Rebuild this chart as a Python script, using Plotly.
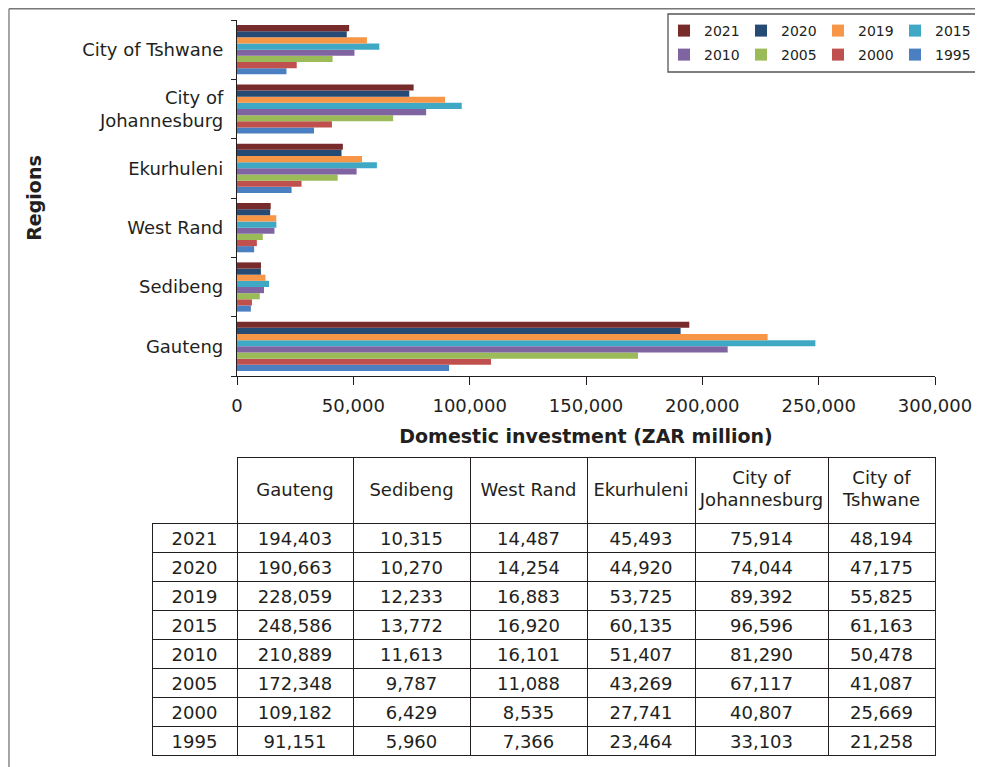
import plotly.graph_objects as go

# page body has an 8px margin, so the figure starts at (8, 8) in the screenshot
OFF = 8
W, H = 975, 759

regions = ['Gauteng', 'Sedibeng', 'West Rand', 'Ekurhuleni', 'City of Johannesburg', 'City of Tshwane']
region_labels = ['Gauteng', 'Sedibeng', 'West Rand', 'Ekurhuleni', 'City of<br>Johannesburg', 'City of Tshwane']
years = ['2021', '2020', '2019', '2015', '2010', '2005', '2000', '1995']

v2021 = [194403, 10315, 14487, 45493, 75914, 48194]
v2020 = [190663, 10270, 14254, 44920, 74044, 47175]
v2019 = [228059, 12233, 16883, 53725, 89392, 55825]
v2015 = [248586, 13772, 16920, 60135, 96596, 61163]
v2010 = [210889, 11613, 16101, 51407, 81290, 50478]
v2005 = [172348, 9787, 11088, 43269, 67117, 41087]
v2000 = [109182, 6429, 8535, 27741, 40807, 25669]
v1995 = [91151, 5960, 7366, 23464, 33103, 21258]

series = [v2021, v2020, v2019, v2015, v2010, v2005, v2000, v1995]
colors = ['#772b2b', '#254a74', '#f79646', '#3fa9c5', '#8064a2', '#9bbb59', '#c0504d', '#4a80c1']

FONT = 'DejaVu Sans, sans-serif'
TXT = '#231f20'
CLEAR = 'rgba(0,0,0,0)'


def px_x(x):
    return (x - OFF) / W


def px_y(y):
    return 1 - (y - OFF) / H


fig = go.Figure()

# 1995 first so 2021 ends up at the top of each group
for i in reversed(range(len(years))):
    fig.add_trace(go.Bar(
        y=region_labels, x=series[i], name=years[i], orientation='h',
        marker=dict(color=colors[i], line=dict(width=0)),
        legend='legend' if i < 4 else 'legend2',
    ))

col_w = [85, 116, 117, 117, 108, 133, 107]
tbl_x = [px_x(152), px_x(935)]
cols = [years] + [[f'{s[i]:,}' for s in series] for i in range(len(regions))]

# grid + body
fig.add_trace(go.Table(
    domain=dict(x=tbl_x, y=[px_y(757), px_y(457)]),
    columnwidth=col_w,
    header=dict(
        values=[''] * 7, height=66,
        fill=dict(color=[CLEAR] + ['white'] * 6),
        line=dict(color=[CLEAR] + [TXT] * 6, width=1),
    ),
    cells=dict(
        values=cols, height=29, align='center',
        fill=dict(color='white'),
        line=dict(color=TXT, width=1),
        font=dict(family=FONT, size=18, color=TXT),
    ),
))

# header texts, one line per overlay so each sits centred in the tall header row
head_lines = [
    (['', 'Gauteng', 'Sedibeng', 'West\u00a0Rand', 'Ekurhuleni', '', ''], 17.5),
    (['', '', '', '', '', 'City\u00a0of', 'City\u00a0of'], 5.5),
    (['', '', '', '', '', 'Johannesburg', 'Tshwane'], 27.5),
]
for vals, shift in head_lines:
    fig.add_trace(go.Table(
        domain=dict(x=tbl_x, y=[px_y(757), px_y(457 + shift)]),
        columnwidth=col_w,
        header=dict(
            values=vals, height=30, align='center',
            fill=dict(color=CLEAR), line=dict(color=CLEAR, width=0),
            font=dict(family=FONT, size=18, color=TXT),
        ),
        cells=dict(values=[], fill=dict(color=CLEAR), line=dict(color=CLEAR, width=0)),
    ))

legend_common = dict(
    orientation='h', traceorder='reversed', xanchor='left', yanchor='middle',
    entrywidth=32, entrywidthmode='pixels', borderwidth=0, bgcolor=CLEAR,
    font=dict(family=FONT, size=14, color=TXT), itemwidth=30,
)

fig.update_layout(
    width=W, height=H,
    margin=dict(l=0, r=0, t=0, b=0),
    paper_bgcolor='white', plot_bgcolor='white',
    barmode='group', bargap=0.17, bargroupgap=0,
    font=dict(family=FONT, size=18, color=TXT),
    xaxis=dict(
        domain=[px_x(237), px_x(935)], range=[0, 300000], automargin=False,
        tickvals=[0, 50000, 100000, 150000, 200000, 250000, 300000],
        ticktext=['0', '50,000', '100,000', '150,000', '200,000', '250,000', '300,000'],
        showgrid=False, zeroline=False, showline=True, linecolor=TXT, linewidth=1.3,
        ticks='outside', ticklen=8, tickcolor=TXT, tickwidth=1.3,
        tickfont=dict(size=18), ticklabelstandoff=5, anchor='y',
        title=dict(text='<b>Domestic investment (ZAR million)</b>', font=dict(size=19), standoff=14),
    ),
    yaxis=dict(
        domain=[px_y(376), px_y(20)], automargin=False,
        showgrid=False, showline=True, linecolor=TXT, linewidth=1.3,
        ticks='outside', tickson='boundaries', ticklen=5, tickcolor=TXT, tickwidth=1.3,
        tickfont=dict(size=18), ticklabelstandoff=9,
        title=dict(text='<b>Regions</b>', font=dict(size=19), standoff=35),
    ),
    legend=dict(x=px_x(664), y=px_y(31), **legend_common),
    legend2=dict(x=px_x(664), y=px_y(55), **legend_common),
    shapes=[
        dict(type='rect', xref='paper', yref='paper',
             x0=px_x(668), x1=px_x(980), y0=px_y(72), y1=px_y(14),
             line=dict(color='#555555', width=1.3)),
        dict(type='line', xref='paper', yref='paper', x0=0.001, x1=1, y0=0.999, y1=0.999,
             line=dict(color='#777777', width=1.3)),
        dict(type='line', xref='paper', yref='paper', x0=0.001, x1=0.001, y0=0, y1=0.999,
             line=dict(color='#777777', width=1.3)),
    ],
)

fig.write_html('out.html')
